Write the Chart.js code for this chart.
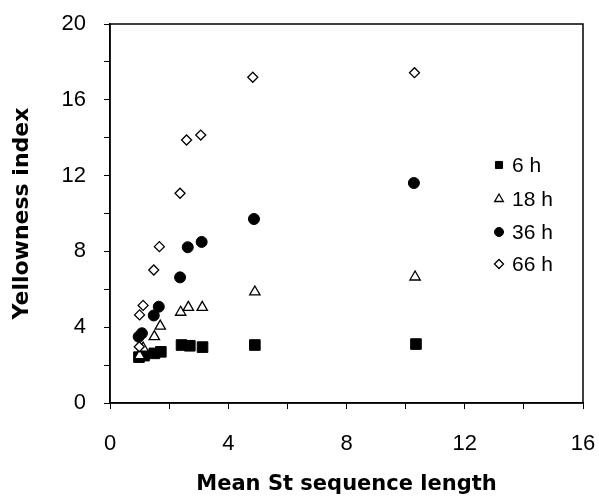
<!DOCTYPE html>
<html>
<head>
<meta charset="utf-8">
<script src="https://cdn.jsdelivr.net/npm/chart.js@4"></script>
<style>
html,body{margin:0;padding:0;background:#fff;}
#wrap{width:599px;height:497px;position:relative;}
</style>
</head>
<body>
<div id="wrap"><canvas id="c" width="599" height="497"></canvas></div>
<script>
// ---- data ----
const seriesNames = ['6 h', '18 h', '36 h', '66 h'];
const len6  = [0.98, 1.15, 1.50, 1.72, 2.42, 2.70, 3.13, 4.90, 10.35];
const yel6  = [2.42, 2.50, 2.62, 2.70, 3.06, 3.02, 2.95, 3.06, 3.11];
const len18 = [1.00, 1.12, 1.50, 1.70, 2.39, 2.65, 3.12, 4.90, 10.32];
const yel18 = [2.50, 2.90, 3.50, 4.06, 4.79, 5.05, 5.05, 5.86, 6.65];
const len36 = [0.97, 1.08, 1.48, 1.65, 2.37, 2.63, 3.10, 4.87, 10.28];
const yel36 = [3.50, 3.68, 4.62, 5.08, 6.63, 8.22, 8.50, 9.71, 11.61];
const len66 = [0.99, 1.00, 1.12, 1.48, 1.67, 2.37, 2.59, 3.07, 4.83, 10.30];
const yel66 = [2.97, 4.65, 5.15, 7.02, 8.25, 11.07, 13.88, 14.14, 17.19, 17.43];
const xTickLabels = [0, 4, 8, 12, 16];
const yTickLabels = [0, 4, 8, 12, 16, 20];

const FONT = 'Arial, "Liberation Sans", sans-serif';
const TFONT = '"DejaVu Sans", Arial, sans-serif';
const pts = (xs, ys) => xs.map((x, i) => ({x: x, y: ys[i]}));

const styles = [
  {pointStyle: 'rect', radius: 7.5, bg: '#000', border: '#000', bw: 1, lr: 5},
  {pointStyle: 'triangle', radius: 6, bg: '#fff', border: '#000', bw: 1.3, lr: 5},
  {pointStyle: 'circle', radius: 5.5, bg: '#000', border: '#000', bw: 1, lr: 4.5},
  {pointStyle: 'rectRot', radius: 5, bg: '#fff', border: '#000', bw: 1.3, lr: 4.5}
];
const dataSets = [pts(len6, yel6), pts(len18, yel18), pts(len36, yel36), pts(len66, yel66)];

const frameLegend = {
  id: 'frameLegend',
  afterDraw(chart) {
    const {ctx, chartArea: a} = chart;
    ctx.save();
    ctx.strokeStyle = '#000';
    ctx.lineWidth = 1.5;
    ctx.strokeRect(a.left, a.top, a.right - a.left, a.bottom - a.top);
    // legend
    const rows = [165, 199, 232, 264];
    ctx.font = '21px ' + FONT;
    ctx.textBaseline = 'middle';
    ctx.textAlign = 'left';
    seriesNames.forEach((name, i) => {
      const s = styles[i];
      ctx.fillStyle = s.bg;
      ctx.strokeStyle = s.border;
      ctx.lineWidth = s.bw;
      Chart.helpers.drawPoint(ctx, {pointStyle: s.pointStyle, radius: s.lr, borderWidth: s.bw, rotation: 0}, 499, rows[i]);
      ctx.fillStyle = '#000';
      ctx.fillText(name, 512, rows[i] + 1);
    });
    ctx.restore();
  }
};

new Chart(document.getElementById('c'), {
  type: 'scatter',
  data: {
    datasets: seriesNames.map((n, i) => ({
      label: n,
      data: dataSets[i],
      pointStyle: styles[i].pointStyle,
      pointRadius: styles[i].radius,
      pointHoverRadius: styles[i].radius,
      backgroundColor: styles[i].bg,
      borderColor: styles[i].border,
      pointBorderWidth: styles[i].bw,
      order: 3 - i
    }))
  },
  options: {
    responsive: false,
    animation: false,
    layout: {padding: {top: 24, right: 16, left: 0, bottom: 0}},
    plugins: {legend: {display: false}, tooltip: {enabled: false}},
    scales: {
      x: {
        type: 'linear', min: 0, max: 16,
        afterFit(s) { s.height = 94; s.paddingLeft = 0; s.paddingRight = 0; },
        ticks: {
          stepSize: 2,
          color: '#000',
          font: {family: FONT, size: 22},
          padding: 22,
          maxRotation: 0,
          callback: v => xTickLabels.includes(v) ? String(v) : ''
        },
        grid: {drawOnChartArea: false, drawTicks: true, tickLength: 6, color: '#000', lineWidth: 1},
        border: {display: true, color: '#000', width: 1.5},
        title: {display: true, text: 'Mean St sequence length', color: '#000',
          font: {family: TFONT, size: 21, weight: 'bold', lineHeight: 1}, padding: {top: 0, bottom: 2}}
      },
      y: {
        type: 'linear', min: 0, max: 20,
        afterFit(s) { s.width = 110; s.paddingTop = 0; s.paddingBottom = 0; },
        ticks: {
          stepSize: 2,
          color: '#000',
          font: {family: FONT, size: 22},
          padding: 18,
          callback: v => yTickLabels.includes(v) ? String(v) : ''
        },
        grid: {drawOnChartArea: false, drawTicks: true, tickLength: 6, color: '#000', lineWidth: 1},
        border: {display: true, color: '#000', width: 1.5},
        title: {display: true, text: 'Yellowness index', color: '#000',
          font: {family: TFONT, size: 22, weight: 'bold', lineHeight: 1}, padding: {top: 11, bottom: 0}}
      }
    }
  },
  plugins: [frameLegend]
});
</script>
</body>
</html>
